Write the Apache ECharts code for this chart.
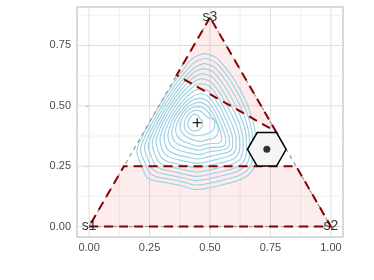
<!DOCTYPE html>
<html><head><meta charset="utf-8">
<script src="https://cdn.jsdelivr.net/npm/echarts@6/dist/echarts.min.js"></script>
<style>html,body{margin:0;padding:0;background:#fff}#c{width:374px;height:280px}</style>
</head><body><div id="c"></div>
<script>
// ---- data ----
const xTicks = [0, 0.25, 0.5, 0.75, 1];
const yTicks = [0, 0.25, 0.5, 0.75];
const xMinor = [0.125, 0.375, 0.625, 0.875];
const yMinor = [0.125, 0.375, 0.625, 0.875];
const vertexNames = ['s1', 's2', 's3'];
const vertices = [[0, 0], [1, 0], [0.5, 0.866]];
const regionLow = [[0, 0], [1, 0], [0.856, 0.25], [0.144, 0.25]];
const regionHigh = [[0.5, 0.866], [0.362, 0.627], [0.773, 0.393]];
const centroid = [0.447, 0.43];
const hexCenter = [0.735, 0.32];
const hexRadius = 0.08;

const ring0 = [[0.478,0.717],[0.525,0.700],[0.560,0.662],[0.602,0.606],[0.643,0.531],[0.672,0.455],[0.688,0.380],[0.690,0.300],[0.682,0.245],[0.652,0.208],[0.600,0.186],[0.540,0.170],[0.480,0.157],[0.440,0.153],[0.390,0.167],[0.330,0.180],[0.270,0.190],[0.238,0.205],[0.218,0.250],[0.198,0.310],[0.218,0.370],[0.255,0.440],[0.298,0.515],[0.343,0.585],[0.388,0.648],[0.430,0.698]];
const ring1 = [[0.478,0.697],[0.520,0.682],[0.555,0.645],[0.595,0.588],[0.633,0.518],[0.660,0.448],[0.675,0.378],[0.677,0.305],[0.669,0.255],[0.640,0.222],[0.595,0.203],[0.535,0.188],[0.478,0.176],[0.440,0.172],[0.392,0.184],[0.335,0.196],[0.280,0.206],[0.250,0.222],[0.232,0.262],[0.213,0.318],[0.233,0.375],[0.268,0.442],[0.308,0.512],[0.350,0.578],[0.393,0.635],[0.435,0.680]];
const ring2 = [[0.475,0.676],[0.515,0.662],[0.548,0.627],[0.586,0.572],[0.622,0.505],[0.648,0.440],[0.662,0.375],[0.664,0.310],[0.656,0.265],[0.630,0.238],[0.590,0.220],[0.530,0.206],[0.478,0.194],[0.442,0.190],[0.395,0.200],[0.340,0.212],[0.290,0.222],[0.262,0.238],[0.245,0.275],[0.229,0.325],[0.248,0.380],[0.280,0.445],[0.318,0.510],[0.358,0.572],[0.399,0.622],[0.438,0.660]];
const ring3 = [[0.473,0.655],[0.510,0.642],[0.540,0.610],[0.576,0.556],[0.610,0.492],[0.636,0.432],[0.650,0.372],[0.651,0.315],[0.643,0.275],[0.620,0.252],[0.582,0.236],[0.527,0.223],[0.478,0.212],[0.444,0.208],[0.398,0.216],[0.346,0.228],[0.300,0.238],[0.274,0.254],[0.258,0.288],[0.245,0.333],[0.262,0.386],[0.292,0.447],[0.328,0.508],[0.366,0.565],[0.404,0.610],[0.440,0.642]];
const ring4 = [[0.470,0.634],[0.505,0.622],[0.533,0.592],[0.566,0.540],[0.598,0.480],[0.622,0.425],[0.636,0.368],[0.637,0.320],[0.628,0.285],[0.608,0.265],[0.572,0.252],[0.522,0.240],[0.478,0.230],[0.446,0.226],[0.402,0.233],[0.352,0.244],[0.310,0.254],[0.286,0.270],[0.272,0.300],[0.261,0.342],[0.276,0.392],[0.304,0.450],[0.338,0.506],[0.374,0.558],[0.410,0.598],[0.442,0.624]];
const ring5 = [[0.468,0.613],[0.500,0.602],[0.526,0.574],[0.557,0.525],[0.586,0.470],[0.609,0.418],[0.622,0.365],[0.623,0.325],[0.614,0.296],[0.595,0.279],[0.562,0.268],[0.517,0.257],[0.478,0.248],[0.448,0.244],[0.406,0.250],[0.360,0.260],[0.322,0.270],[0.299,0.286],[0.286,0.313],[0.277,0.350],[0.290,0.398],[0.316,0.452],[0.348,0.504],[0.382,0.550],[0.415,0.584],[0.444,0.606]];
const ring6 = [[0.466,0.592],[0.496,0.582],[0.520,0.556],[0.548,0.511],[0.574,0.460],[0.596,0.411],[0.608,0.362],[0.608,0.330],[0.600,0.306],[0.582,0.293],[0.552,0.284],[0.512,0.274],[0.478,0.266],[0.450,0.262],[0.410,0.268],[0.368,0.277],[0.334,0.287],[0.312,0.302],[0.300,0.326],[0.293,0.360],[0.305,0.404],[0.329,0.454],[0.359,0.502],[0.390,0.542],[0.420,0.570],[0.446,0.588]];
const ring7 = [[0.464,0.571],[0.492,0.562],[0.514,0.538],[0.540,0.497],[0.563,0.451],[0.583,0.404],[0.594,0.360],[0.594,0.334],[0.586,0.316],[0.569,0.306],[0.542,0.300],[0.506,0.292],[0.476,0.284],[0.452,0.280],[0.414,0.286],[0.376,0.294],[0.346,0.304],[0.326,0.318],[0.315,0.340],[0.310,0.370],[0.320,0.410],[0.342,0.456],[0.370,0.498],[0.398,0.532],[0.425,0.556],[0.448,0.568]];
const ring8 = [[0.462,0.551],[0.488,0.543],[0.508,0.521],[0.532,0.483],[0.552,0.442],[0.570,0.398],[0.580,0.360],[0.580,0.338],[0.572,0.325],[0.556,0.318],[0.532,0.314],[0.500,0.310],[0.474,0.302],[0.454,0.298],[0.420,0.304],[0.386,0.312],[0.358,0.322],[0.340,0.334],[0.330,0.354],[0.326,0.380],[0.335,0.416],[0.354,0.458],[0.380,0.494],[0.405,0.522],[0.430,0.540],[0.450,0.548]];
const ring9 = [[0.460,0.532],[0.484,0.524],[0.502,0.505],[0.524,0.470],[0.542,0.433],[0.557,0.394],[0.565,0.362],[0.564,0.342],[0.556,0.333],[0.540,0.329],[0.520,0.328],[0.494,0.326],[0.472,0.320],[0.455,0.316],[0.425,0.322],[0.396,0.330],[0.370,0.340],[0.354,0.352],[0.345,0.370],[0.342,0.392],[0.350,0.424],[0.366,0.460],[0.390,0.490],[0.412,0.512],[0.434,0.526],[0.450,0.530]];
const ring10 = [[0.458,0.514],[0.480,0.507],[0.497,0.490],[0.515,0.462],[0.530,0.430],[0.542,0.398],[0.548,0.368],[0.546,0.352],[0.538,0.345],[0.522,0.344],[0.505,0.344],[0.485,0.341],[0.468,0.336],[0.454,0.333],[0.430,0.338],[0.405,0.347],[0.383,0.357],[0.368,0.370],[0.360,0.386],[0.358,0.406],[0.366,0.432],[0.380,0.462],[0.400,0.486],[0.420,0.502],[0.438,0.511]];
const ring11 = [[0.456,0.497],[0.476,0.490],[0.490,0.476],[0.505,0.456],[0.520,0.440],[0.532,0.420],[0.534,0.398],[0.528,0.378],[0.515,0.366],[0.498,0.362],[0.480,0.357],[0.462,0.352],[0.440,0.356],[0.418,0.364],[0.398,0.375],[0.384,0.390],[0.377,0.408],[0.378,0.430],[0.388,0.455],[0.404,0.476],[0.422,0.490],[0.440,0.496]];
const ring12 = [[0.440,0.482],[0.460,0.478],[0.475,0.466],[0.490,0.452],[0.508,0.446],[0.520,0.432],[0.518,0.410],[0.506,0.394],[0.488,0.385],[0.466,0.378],[0.442,0.376],[0.420,0.382],[0.402,0.394],[0.394,0.412],[0.395,0.434],[0.405,0.456],[0.420,0.473]];
const ring13 = [[0.432,0.466],[0.448,0.462],[0.458,0.448],[0.470,0.432],[0.466,0.412],[0.450,0.398],[0.430,0.396],[0.414,0.406],[0.408,0.424],[0.414,0.446]];
const contours = [ring0, ring1, ring2, ring3, ring4, ring5, ring6, ring7, ring8, ring9, ring10, ring11, ring12, ring13];

// ---- chart ----
const FONT = 'Liberation Sans, Arial, sans-serif';
const chart = echarts.init(document.getElementById('c'), null, {renderer: 'canvas'});

const gridItems = [];
xTicks.forEach(v => gridItems.push({value: [v, 0.4], kind: 'vMajor'}));
xMinor.forEach(v => gridItems.push({value: [v, 0.4], kind: 'vMinor'}));
yTicks.forEach(v => gridItems.push({value: [0.5, v], kind: 'hMajor'}));
yMinor.forEach(v => gridItems.push({value: [0.5, v], kind: 'hMinor'}));

const series = [];
// grid lines
series.push({
  type: 'custom', silent: true, z: 1, clip: true,
  data: gridItems.map(g => g.value),
  renderItem: (params, api) => {
    const g = gridItems[params.dataIndex];
    const cs = params.coordSys;
    const p = api.coord(g.value);
    const major = g.kind.endsWith('Major');
    const style = {stroke: major ? '#dedede' : '#ececec', lineWidth: major ? 1 : 0.8};
    if (g.kind[0] === 'v') {
      return {type: 'line', shape: {x1: p[0], y1: cs.y, x2: p[0], y2: cs.y + cs.height}, style};
    }
    return {type: 'line', shape: {x1: cs.x, y1: p[1], x2: cs.x + cs.width, y2: p[1]}, style};
  }
});
// shaded regions
const regions = [regionLow, regionHigh];
series.push({
  type: 'custom', silent: true, z: 2,
  data: regions.map(r => r[0]),
  renderItem: (params, api) => ({
    type: 'polygon',
    shape: {points: regions[params.dataIndex].map(p => api.coord(p))},
    style: {fill: 'rgba(230,80,70,0.10)', stroke: null}
  })
});
// contours
contours.forEach(ring => {
  series.push({
    type: 'line', silent: true, z: 3, smooth: 0.35, symbol: 'none',
    data: ring.concat([ring[0]]),
    lineStyle: {color: '#a2d2e4', width: 1.2}
  });
});
// gray simplex outline
series.push({
  type: 'line', silent: true, z: 4, symbol: 'none',
  data: vertices.concat([vertices[0]]),
  lineStyle: {color: '#9a9a9a', width: 1.2, type: [4, 4]}
});
// red dashed region borders
series.push({
  type: 'custom', silent: true, z: 5,
  data: regions.map(r => r[0]),
  renderItem: (params, api) => ({
    type: 'polygon',
    shape: {points: regions[params.dataIndex].map(p => api.coord(p))},
    style: {fill: null, stroke: '#8b0000', lineWidth: 2, lineDash: [9, 6]}
  })
});
// hexagon around point
series.push({
  type: 'custom', silent: true, z: 6,
  data: [hexCenter],
  renderItem: (params, api) => {
    const c = api.coord(hexCenter);
    const e = api.coord([hexCenter[0] + hexRadius, hexCenter[1]]);
    const ey = api.coord([hexCenter[0], hexCenter[1] + hexRadius]);
    const rx = e[0] - c[0], ry = c[1] - ey[1];
    const pts = [];
    for (let k = 0; k < 6; k++) {
      const a = Math.PI / 3 * k;
      pts.push([c[0] + rx * Math.cos(a), c[1] - ry * Math.sin(a)]);
    }
    return {type: 'polygon', shape: {points: pts}, style: {fill: '#f5f5f5', stroke: '#000', lineWidth: 1.5}};
  }
});
// point
series.push({
  type: 'scatter', silent: true, z: 7, symbol: 'circle', symbolSize: 7,
  data: [hexCenter], itemStyle: {color: '#000'}
});
// centroid plus
series.push({
  type: 'custom', silent: true, z: 7,
  data: [centroid],
  renderItem: (params, api) => {
    const c = api.coord(centroid);
    const h = 4.5;
    return {type: 'group', children: [
      {type: 'line', shape: {x1: c[0] - h, y1: c[1], x2: c[0] + h, y2: c[1]}, style: {stroke: '#000', lineWidth: 1.1}},
      {type: 'line', shape: {x1: c[0], y1: c[1] - h, x2: c[0], y2: c[1] + h}, style: {stroke: '#000', lineWidth: 1.1}}
    ]};
  }
});
// vertex labels
series.push({
  type: 'scatter', silent: true, z: 8, symbolSize: 1,
  itemStyle: {color: 'rgba(0,0,0,0)'},
  data: vertices.map((v, i) => ({value: v, name: vertexNames[i]})),
  label: {show: true, position: 'inside', formatter: p => p.name, color: '#000', fontSize: 14, fontFamily: FONT}
});

chart.setOption({
  animation: false,
  backgroundColor: '#fff',
  grid: {left: 77, top: 7, width: 266, height: 230, show: true, backgroundColor: '#fff',
         borderColor: '#b3b3b3', borderWidth: 1, outerBoundsMode: 'none'},
  xAxis: {
    type: 'value', min: -0.05, max: 1.05,
    axisLine: {show: false},
    axisTick: {show: true, length: 3.5, lineStyle: {color: '#b3b3b3'}, customValues: xTicks},
    axisLabel: {color: '#4d4d4d', fontSize: 11, fontFamily: FONT, margin: 5, customValues: xTicks,
                formatter: v => v.toFixed(2)},
    splitLine: {show: false}
  },
  yAxis: {
    type: 'value', min: -0.0433, max: 0.9093,
    axisLine: {show: false},
    axisTick: {show: true, length: 3.5, lineStyle: {color: '#b3b3b3'}, customValues: yTicks},
    axisLabel: {color: '#4d4d4d', fontSize: 11, fontFamily: FONT, margin: 6, customValues: yTicks,
                formatter: v => v.toFixed(2)},
    splitLine: {show: false}
  },
  series
});
</script></body></html>
